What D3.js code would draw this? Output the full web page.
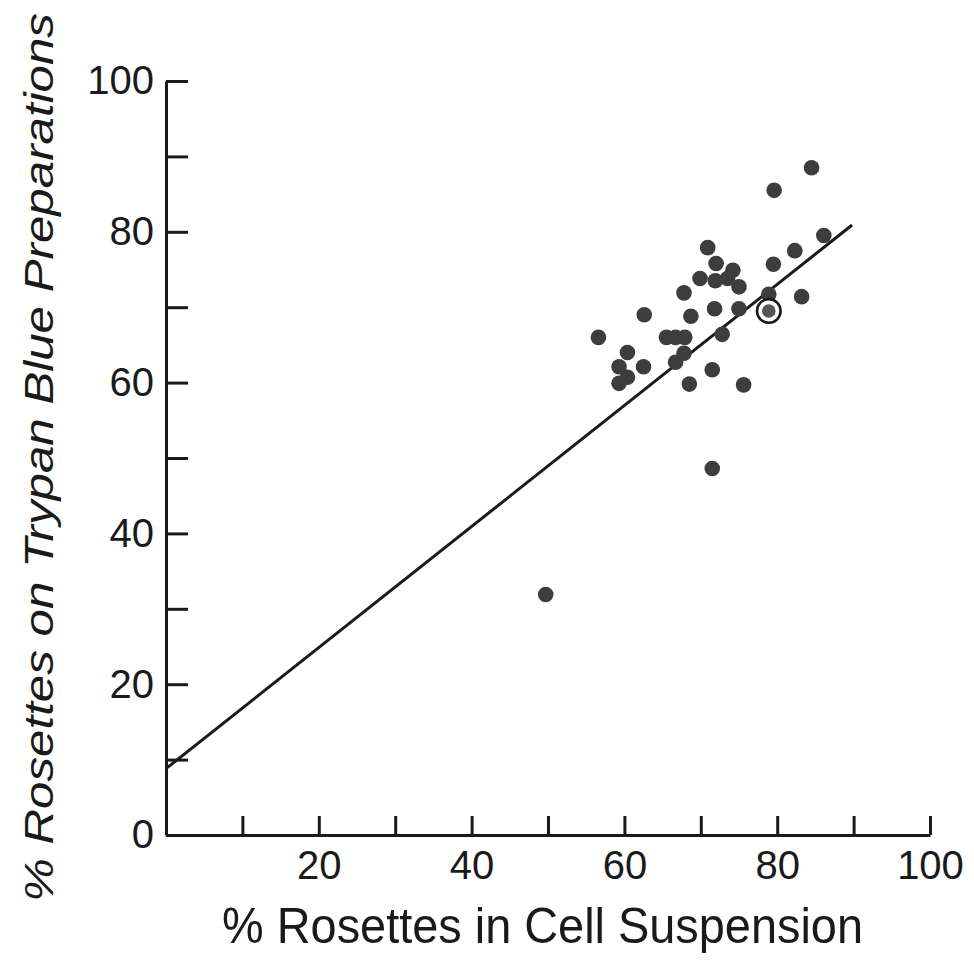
<!DOCTYPE html>
<html>
<head>
<meta charset="utf-8">
<script src="https://cdn.jsdelivr.net/npm/d3@7"></script>
<style>
  body { margin: 0; background: #fff; }
  svg { display: block; }
  .axis path, .axis line { stroke: #1a1a1a; stroke-width: 3; }
  .axis text { font-family: "Liberation Sans Narrow", "Liberation Sans", sans-serif; font-size: 40px; fill: #1a1a1a; }
</style>
</head>
<body>
<div id="chart"></div>
<script>
// % rosettes in cell suspension (x) vs % rosettes on trypan blue preparations (y)
const xValues = [84.5, 79.6, 86.1, 82.3, 79.5, 83.2, 78.9, 70.9, 72.0, 74.2, 69.9, 71.9, 73.5,
                 75.0, 67.8, 71.8, 75.0, 68.7, 62.6, 72.8, 65.5, 66.7, 67.9, 56.6, 60.4, 67.8,
                 66.7, 59.3, 62.5, 60.4, 59.3, 71.5, 68.5, 75.6, 71.5, 49.7];
const yValues = [88.5, 85.5, 79.5, 77.5, 75.7, 71.4, 71.7, 77.9, 75.8, 74.9, 73.8, 73.5, 73.8,
                 72.7, 71.9, 69.8, 69.8, 68.8, 69.0, 66.4, 66.0, 66.0, 66.0, 66.0, 64.0, 63.9,
                 62.7, 62.1, 62.1, 60.7, 59.9, 61.7, 59.8, 59.7, 48.6, 31.9];
// the single circled point
const circledPoint = [78.9, 69.5];
// regression line end points
const fitLine = [[0, 8.8], [89.8, 80.9]];

const xTicks = [10, 20, 30, 40, 50, 60, 70, 80, 90, 100];
const xLabels = [20, 40, 60, 80, 100];
const yTicks = [0, 10, 20, 30, 40, 50, 60, 70, 80, 90, 100];
const yLabels = [0, 20, 40, 60, 80, 100];

const xTitle = "% Rosettes in Cell Suspension";
const yTitle = "% Rosettes on Trypan Blue Preparations";

const width = 974, height = 969;

const svg = d3.select('#chart')
    .append('svg')
    .attr('width', width)
    .attr('height', height);

const x = d3.scaleLinear().domain([0, 100]).range([166, 930]);
const y = d3.scaleLinear().domain([0, 100]).range([835, 81]);

// x axis, ticks pointing up
svg.append('g')
    .attr('class', 'axis')
    .attr('transform', `translate(0,${y(0)})`)
    .call(d3.axisBottom(x)
        .tickValues(xTicks)
        .tickSizeInner(-19)
        .tickSizeOuter(0)
        .tickPadding(16)
        .tickFormat(d => xLabels.includes(d) ? d : ''));

// y axis, ticks pointing right
svg.append('g')
    .attr('class', 'axis')
    .attr('transform', `translate(${x(0)},0)`)
    .call(d3.axisLeft(y)
        .tickValues(yTicks)
        .tickSizeInner(-22)
        .tickSizeOuter(0)
        .tickPadding(12)
        .tickFormat(d => yLabels.includes(d) ? d : ''));

// regression line
svg.append('path')
    .datum(fitLine)
    .attr('fill', 'none')
    .attr('stroke', '#1a1a1a')
    .attr('stroke-width', 3)
    .attr('d', d3.line().x(d => x(d[0])).y(d => y(d[1])));

// points
svg.append('g')
    .selectAll('circle')
    .data(d3.zip(xValues, yValues))
    .enter()
    .append('circle')
    .attr('cx', d => x(d[0]))
    .attr('cy', d => y(d[1]))
    .attr('r', 7.8)
    .attr('fill', '#3d3d3d');

// circled point
svg.append('circle')
    .attr('cx', x(circledPoint[0]))
    .attr('cy', y(circledPoint[1]))
    .attr('r', 11.8)
    .attr('fill', '#fff')
    .attr('stroke', '#1a1a1a')
    .attr('stroke-width', 2.6);
svg.append('circle')
    .attr('cx', x(circledPoint[0]))
    .attr('cy', y(circledPoint[1]))
    .attr('r', 6.8)
    .attr('fill', '#555');

// axis titles
svg.append('text')
    .attr('x', 222)
    .attr('y', 943)
    .attr('textLength', 641)
    .attr('lengthAdjust', 'spacingAndGlyphs')
    .style('font-family', '"Liberation Sans Narrow", "Liberation Sans", sans-serif')
    .style('font-size', '50px')
    .style('fill', '#1a1a1a')
    .text(xTitle);

svg.append('text')
    .attr('transform', 'translate(53,902) rotate(-90)')
    .attr('textLength', 889)
    .attr('lengthAdjust', 'spacingAndGlyphs')
    .style('font-family', '"Liberation Sans Narrow", "Liberation Sans", sans-serif')
    .style('font-style', 'italic')
    .style('font-size', '40px')
    .style('fill', '#1a1a1a')
    .text(yTitle);
</script>
</body>
</html>
